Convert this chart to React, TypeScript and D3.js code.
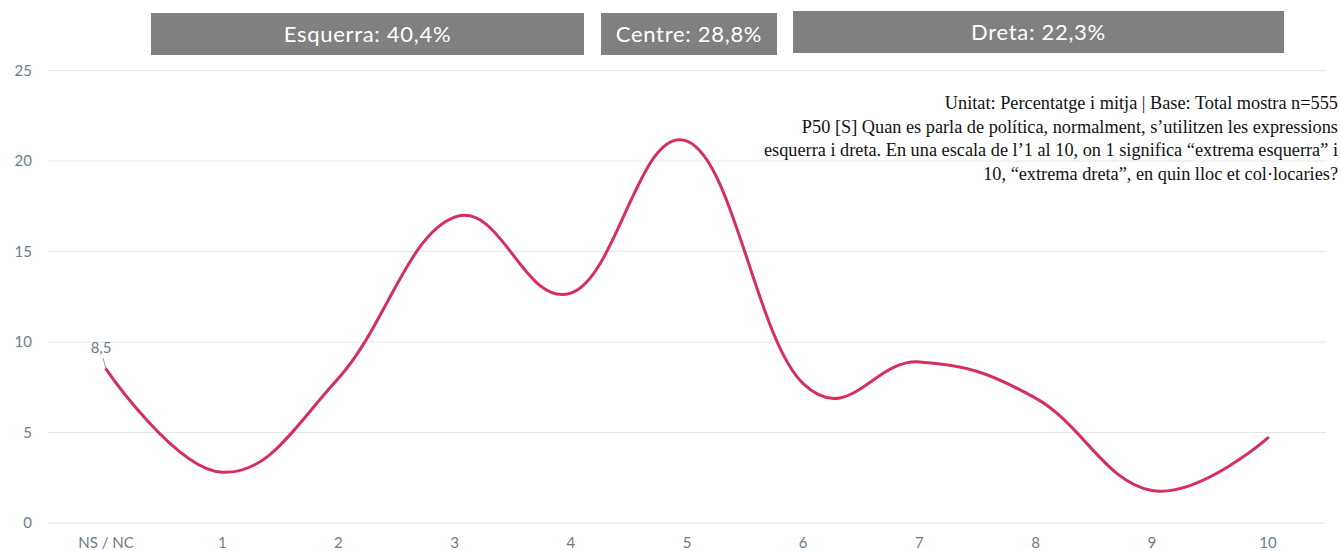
import React from "react";
import * as d3 from "d3";

const categories = ["NS / NC", "1", "2", "3", "4", "5", "6", "7", "8", "9", "10"];
const values = [8.5, 2.8, 8.0, 16.9, 12.7, 21.1, 7.7, 8.9, 6.9, 1.8, 4.7];
const yTicks = [0, 5, 10, 15, 20, 25];
const groupNames = ["Esquerra", "Centre", "Dreta"];
const groupValues = ["40,4%", "28,8%", "22,3%"];
const noteLines = [
  "Unitat: Percentatge i mitja | Base: Total mostra n=555",
  "P50 [S] Quan es parla de política, normalment, s\u2019utilitzen les expressions",
  "esquerra i dreta. En una escala de l\u20191 al 10, on 1 significa \u201cextrema esquerra\u201d i",
  "10, \u201cextrema dreta\u201d, en quin lloc et col\u00b7locaries?",
];

const W = 1341;
const H = 551;
const plot = { left: 48, right: 1326, top: 70.5, bottom: 523 };
// header boxes, laid out like the original page
const boxes = [
  { x: 151, y: 13, w: 433, h: 42 },
  { x: 601, y: 13, w: 176, h: 42 },
  { x: 793, y: 11, w: 491, h: 42 },
];

const LINE = "#d5305b";
const LABEL = "#6f7b88";
const GRID = "#e6e6e6";
const SANS = "Lato, 'Open Sans', sans-serif";

export default function App() {
  const x = d3.scalePoint<string>().domain(categories).range([plot.left, plot.right]).padding(0.5);
  const y = d3.scaleLinear().domain([0, 25]).range([plot.bottom, plot.top]);

  // Highcharts-style spline: slightly looser than a plain cardinal
  const line = d3
    .line<number>()
    .x((_, i) => x(categories[i]) as number)
    .y((d) => y(d))
    .curve(d3.curveCardinal.tension(-0.2));

  const x0 = x(categories[0]) as number;
  const y0 = y(values[0]);

  return (
    <svg
      width={W}
      height={H}
      viewBox={`0 0 ${W} ${H}`}
      style={{ position: "absolute", left: 0, top: 0, background: "#fff" }}
    >
      {yTicks.map((t) => (
        <g key={t}>
          <line x1={plot.left} x2={plot.right} y1={y(t)} y2={y(t)} stroke={GRID} strokeWidth={1} />
          <text x={32} y={y(t)} dy="0.35em" textAnchor="end" fontFamily={SANS} fontSize={15} fill={LABEL}>
            {t}
          </text>
        </g>
      ))}

      {categories.map((c) => (
        <text key={c} x={x(c)} y={543} dy="0.35em" textAnchor="middle" fontFamily={SANS} fontSize={15} fill={LABEL}>
          {c}
        </text>
      ))}

      <path d={line(values) ?? ""} fill="none" stroke={LINE} strokeWidth={3} strokeLinejoin="round" strokeLinecap="round" />

      {/* data label for the first point */}
      <line x1={x0 - 3} y1={y0 - 11} x2={x0} y2={y0} stroke="#999" strokeWidth={1} />
      <text x={x0 - 5} y={y0 - 21} dy="0.35em" textAnchor="middle" fontFamily={SANS} fontSize={15} fill={LABEL}>
        {String(values[0]).replace(".", ",")}
      </text>

      {boxes.map((b, i) => (
        <g key={groupNames[i]}>
          <rect x={b.x} y={b.y} width={b.w} height={b.h} fill="#808080" />
          <text
            x={b.x + b.w / 2}
            y={b.y + b.h / 2}
            dy="0.35em"
            textAnchor="middle"
            fontFamily={SANS}
            fontSize={22}
            letterSpacing={0.7}
            fill="#fff"
          >
            {`${groupNames[i]}: ${groupValues[i]}`}
          </text>
        </g>
      ))}

      {noteLines.map((t, i) => (
        <text
          key={i}
          x={1338}
          y={103 + i * 23.5}
          dy="0.35em"
          textAnchor="end"
          fontFamily="'Liberation Serif', 'DejaVu Serif', serif"
          fontSize={18.3}
          fill="#111"
        >
          {t}
        </text>
      ))}
    </svg>
  );
}
